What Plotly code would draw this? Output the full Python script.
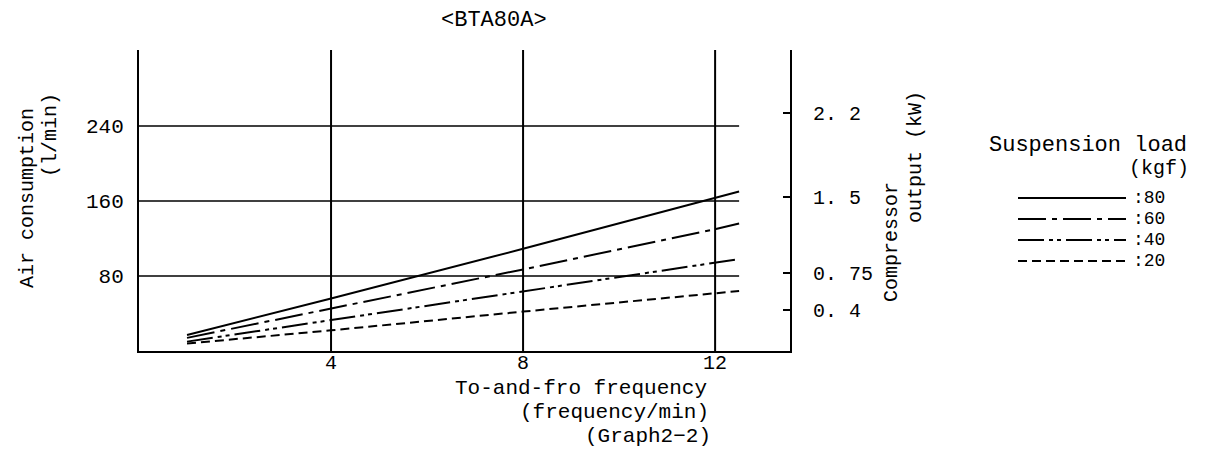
import plotly.graph_objects as go

# ---- data ----
freq = [1, 4, 8, 12, 12.5]
load_labels = ["80", "60", "40", "20"]
air_80 = [17, 56, 109, 163, 170]
air_60 = [14, 45, 87, 130, 136]
air_40 = [10, 33, 64, 94, 98]
air_20 = [8, 22, 42, 62, 64]
x_ticks = [4, 8, 12]
y_ticks = [80, 160, 240]
kw_tick_pos = [44, 83, 164, 254]
kw_tick_text = ["0. 4", "0. 75", "1. 5", "2. 2"]

series = [air_80, air_60, air_40, air_20]
dashes = ["solid", "28px,6px,5px,6px", "26px,5px,4px,4px,4px,5px", "9px,5px"]

FONT = "Liberation Mono"
FS = 22
TFS = 21
X_MAX = 13.56
Y_MAX = 321
GRID_END = 12.5
BODY = 8  # page body margin

fig = go.Figure()
for vals, lab, d in zip(series, load_labels, dashes):
    fig.add_trace(go.Scatter(x=freq, y=vals, mode="lines", name=lab,
                             line=dict(color="black", width=2, dash=d),
                             showlegend=False))
fig.add_trace(go.Scatter(x=[None], y=[None], yaxis="y2", showlegend=False))

shapes = []
for yv in y_ticks:
    shapes.append(dict(type="line", xref="x", yref="y", x0=0, x1=GRID_END, y0=yv, y1=yv,
                       line=dict(color="black", width=1.5)))
for xv in x_ticks:
    shapes.append(dict(type="line", xref="x", yref="y", x0=xv, x1=xv, y0=0, y1=Y_MAX,
                       line=dict(color="black", width=2)))

L, R, T, Bt = 139, 790, 50, 351
W, H = R - L, Bt - T
def px(xp):
    return (xp - L) / W
def py(yp):
    return (Bt - yp) / H

annotations = []
for i, (lab, d) in enumerate(zip(load_labels, dashes)):
    yy = py(198 + i * 21)
    shapes.append(dict(type="line", xref="paper", yref="paper", x0=px(1018), x1=px(1126),
                       y0=yy, y1=yy, line=dict(color="black", width=2, dash=d)))
    annotations.append(dict(text=":" + lab, xref="paper", yref="paper", x=px(1131), y=yy,
                            xanchor="left", yanchor="middle", fs=18))

annotations += [
    dict(text="<BTA80A>", x=px(494), y=py(20), xanchor="center", yanchor="middle"),
    dict(text="Air consumption", x=px(27), y=py(198), textangle=-90, xanchor="center", yanchor="middle", fs=20),
    dict(text="(l/min)", x=px(51), y=py(135), textangle=-90, xanchor="center", yanchor="middle", fs=20),
    dict(text="Compressor", x=px(891), y=py(242), textangle=-90, xanchor="center", yanchor="middle", fs=20),
    dict(text="output (kW)", x=px(915), y=py(157), textangle=-90, xanchor="center", yanchor="middle", fs=20),
    dict(text="To-and-fro frequency", x=px(709), y=py(388), xanchor="right", yanchor="middle", fs=21),
    dict(text="(frequency/min)", x=px(711), y=py(412), xanchor="right", yanchor="middle", fs=21),
    dict(text="(Graph2\u22122)", x=px(713), y=py(436), xanchor="right", yanchor="middle", fs=21),
    dict(text="Suspension load", x=px(1088), y=py(145), xanchor="center", yanchor="middle"),
    dict(text="(kgf)", x=px(1191), y=py(168), xanchor="right", yanchor="middle", fs=20),
]
for a in annotations:
    a.setdefault("xref", "paper")
    a.setdefault("yref", "paper")
    a["showarrow"] = False
    a["font"] = dict(family=FONT, size=a.pop("fs", FS), color="black")

tick_font = dict(family=FONT, size=TFS, color="black")
fig.update_layout(
    width=1212, height=469,
    margin=dict(l=L - BODY, r=1212 - R + BODY, t=T - BODY, b=469 - Bt + BODY),
    paper_bgcolor="white", plot_bgcolor="white",
    font=dict(family=FONT, size=FS, color="black"),
    xaxis=dict(range=[0, X_MAX], tickvals=x_ticks, ticktext=[str(v) for v in x_ticks],
               showgrid=False, zeroline=False, showline=True, linecolor="black", linewidth=2,
               ticks="", ticklabelstandoff=-8, tickfont=dict(family=FONT, size=20, color="black")),
    yaxis=dict(range=[0, Y_MAX], tickvals=y_ticks, ticktext=[str(v) for v in y_ticks],
               showgrid=False, zeroline=False, showline=True, linecolor="black", linewidth=2,
               ticks="", ticklabelstandoff=9, tickfont=tick_font),
    yaxis2=dict(range=[0, Y_MAX], overlaying="y", side="right", anchor="x",
                tickvals=kw_tick_pos, ticktext=kw_tick_text, tickfont=dict(family=FONT, size=20, color="black"),
                showgrid=False, zeroline=False, showline=True, linecolor="black", linewidth=2,
                ticks="inside", ticklen=7, tickwidth=2, tickcolor="black",
                ticklabelstandoff=17),
    shapes=shapes, annotations=annotations, showlegend=False,
)

fig.write_html("out.html")
